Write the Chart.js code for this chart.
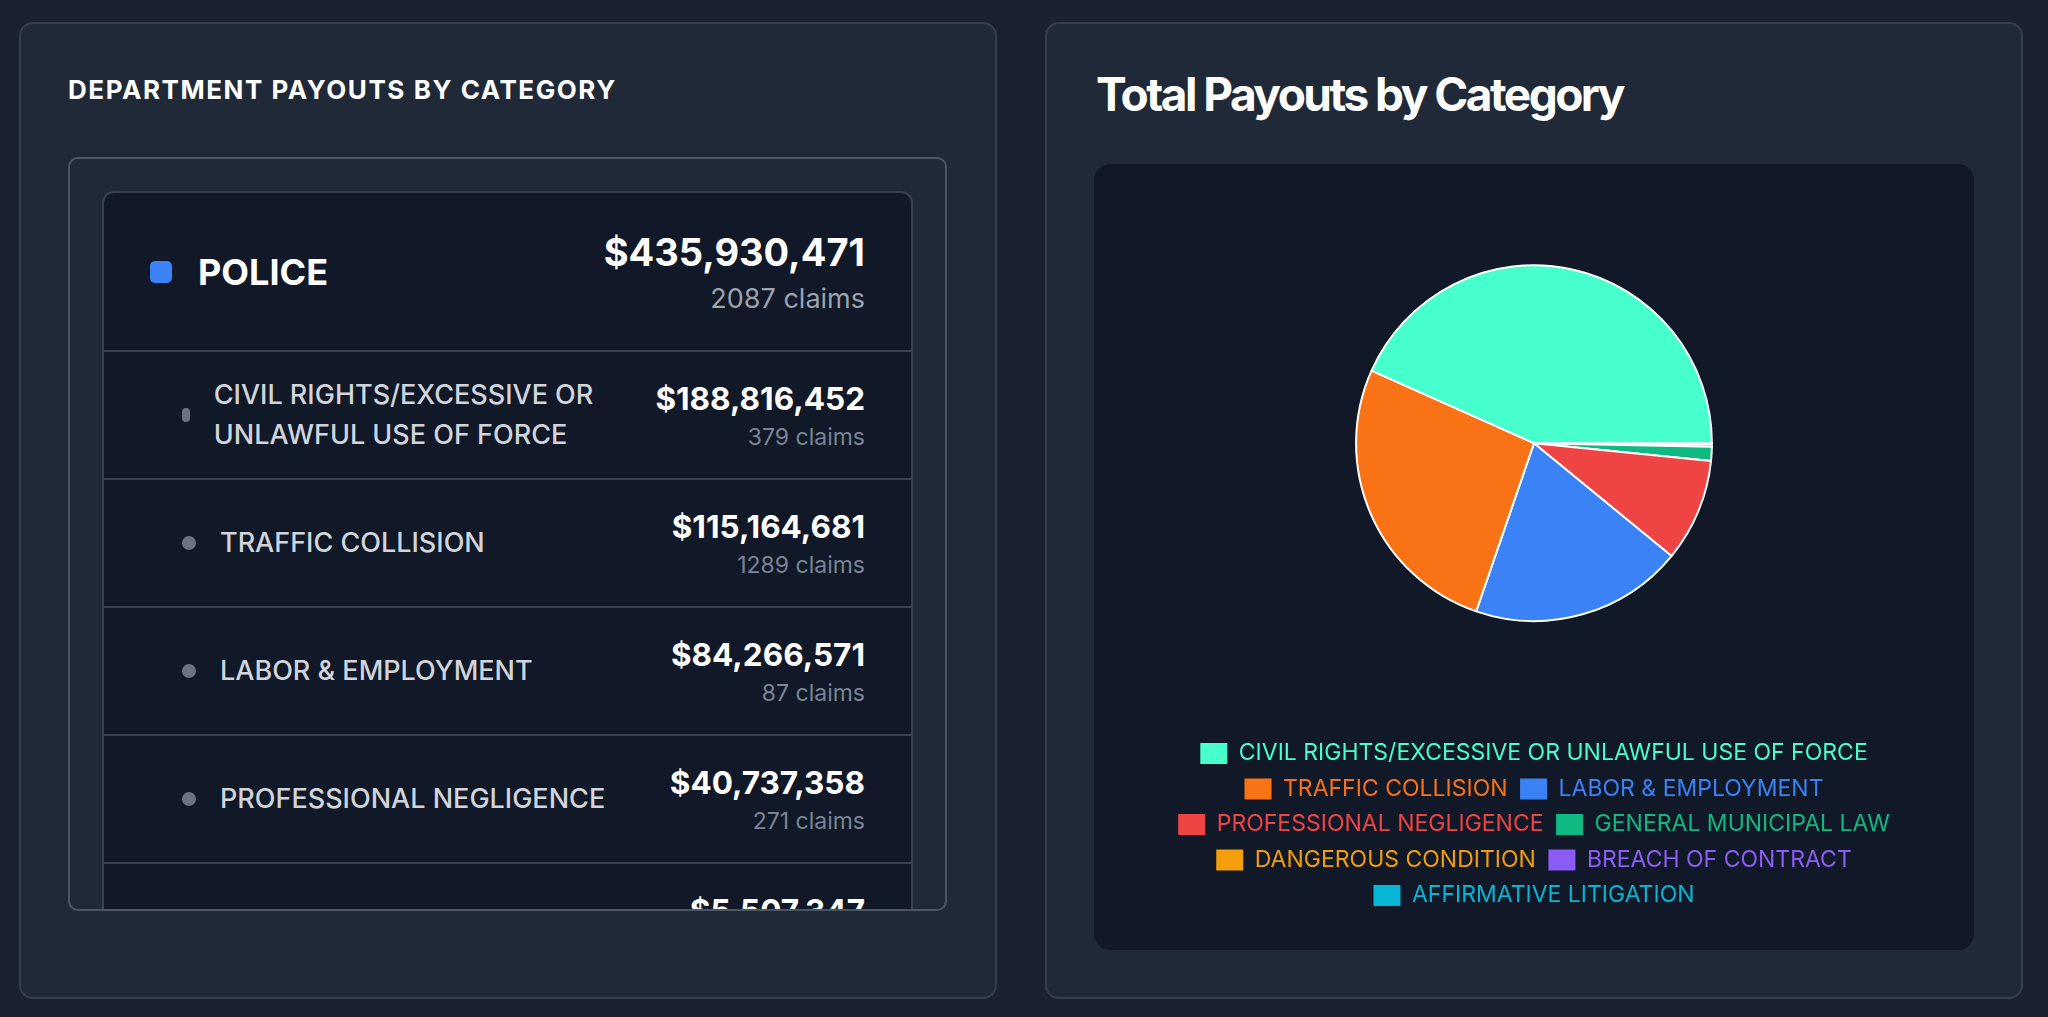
<!DOCTYPE html>
<html>
<head>
<meta charset="utf-8">
<title>Payouts by Category</title>
<script src="https://cdn.jsdelivr.net/npm/chart.js@4.4.1/dist/chart.umd.min.js"></script>
<style>
  * { box-sizing: border-box; }
  body {
    margin: 0;
    width: 2048px;
    height: 1017px;
    overflow: hidden;
    background: #1a2130;
    font-family: Inter, "Noto Sans", sans-serif;
  }
  .panel {
    position: absolute;
    top: 22px;
    width: 978px;
    height: 977px;
    background: #1f2937;
    border: 2px solid #343e4f;
    border-radius: 14px;
  }
  #left { left: 19px; padding: 50px 0 0 47px; }
  #right { left: 1045px; padding: 42px 0 0 47px; }

  .dept-title {
    margin: 0;
    font-size: 26px;
    line-height: 32px;
    font-weight: 700;
    letter-spacing: 0.06em;
    color: #fff;
  }
  .list-box {
    margin-top: 51px;
    width: 879px;
    height: 754px;
    border: 2px solid #4b5563;
    border-radius: 10px;
    padding: 32px;
    overflow: hidden;
  }
  .card {
    background: #111827;
    border: 2px solid #374151;
    border-radius: 12px;
  }
  .row {
    display: flex;
    align-items: center;
    justify-content: space-between;
    border-bottom: 2px solid #374151;
  }
  .row.dept { height: 159px; padding: 0 46px; }
  .row.cat { height: 128px; padding: 0 46px 0 78px; }
  .name { display: flex; align-items: center; min-width: 0; }
  .dept .dot { width: 22px; height: 22px; border-radius: 5px; background: #3b82f6; margin-right: 26px; }
  .dept .label { font-size: 36px; line-height: 40px; font-weight: 700; color: #fff; }
  .cat .dot { width: 14px; height: 14px; border-radius: 9999px; background: #6b7280; margin-right: 24px; }
  .cat .label { font-size: 27px; line-height: 40px; font-weight: 500; color: #d1d5db; }
  .amt { text-align: right; flex-shrink: 0; margin-left: 32px; }
  .money { font-weight: 700; color: #fff; }
  .dept .money { font-size: 38px; line-height: 55px; }
  .dept .claims { font-size: 27px; line-height: 38px; color: #9ca3af; }
  .cat .money { font-size: 31.5px; line-height: 45px; }
  .cat .claims { font-size: 23px; line-height: 33px; color: #7b8494; }

  .chart-title {
    margin: 0 0 42px 2px;
    font-size: 46px;
    line-height: 56px;
    font-weight: 700;
    letter-spacing: -0.055em;
    color: #fff;
  }
  .chart-box {
    width: 880px;
    height: 786px;
    background: #111827;
    border-radius: 16px;
    padding: 24px 24px 33px 24px;
  }
  .chart-wrap { position: relative; width: 832px; height: 729px; }
</style>
</head>
<body>

<div class="panel" id="left">
  <h3 class="dept-title">DEPARTMENT PAYOUTS BY CATEGORY</h3>
  <div class="list-box">
    <div class="card" id="card"></div>
  </div>
</div>

<div class="panel" id="right">
  <h2 class="chart-title">Total Payouts by Category</h2>
  <div class="chart-box">
    <div class="chart-wrap"><canvas id="pie"></canvas></div>
  </div>
</div>

<script>
const department = "POLICE";

const categories = [
    "CIVIL RIGHTS/EXCESSIVE OR UNLAWFUL USE OF FORCE",
    "TRAFFIC COLLISION",
    "LABOR & EMPLOYMENT",
    "PROFESSIONAL NEGLIGENCE",
    "GENERAL MUNICIPAL LAW",
    "DANGEROUS CONDITION",
    "BREACH OF CONTRACT",
    "AFFIRMATIVE LITIGATION"
];

// payout totals ($) and claim counts, police only
const payouts = [188816452, 115164681, 84266571, 40737358, 5507347, 1085420, 287642, 65000];
const claims = [379, 1289, 87, 271, 38, 17, 4, 2];

const colors = ["#46ffcc", "#f97316", "#3b82f6", "#ef4444", "#10b981", "#f59e0b", "#8b5cf6", "#06b6d4"];

const fmt = (n) => "$" + n.toLocaleString("en-US");

// ---- department list ----
function buildList() {
    const card = document.getElementById("card");
    const total = payouts.reduce((a, b) => a + b, 0);
    const totalClaims = claims.reduce((a, b) => a + b, 0);

    let html = `
      <div class="row dept">
        <div class="name"><span class="dot"></span><span class="label">${department}</span></div>
        <div class="amt"><div class="money">${fmt(total)}</div><div class="claims">${totalClaims} claims</div></div>
      </div>`;

    categories.forEach((cat, i) => {
        html += `
      <div class="row cat">
        <div class="name"><span class="dot"></span><span class="label">${cat.replace("&", "&amp;")}</span></div>
        <div class="amt"><div class="money">${fmt(payouts[i])}</div><div class="claims">${claims[i]} claims</div></div>
      </div>`;
    });

    card.innerHTML = html;
}

// ---- pie ----
function renderChart() {
    const ctx = document.getElementById("pie").getContext("2d");

    // slices run counter-clockwise from 3 o'clock in the original,
    // so feed them reversed and start at 90deg
    const rev = (arr) => arr.slice().reverse();

    new Chart(ctx, {
        type: "pie",
        data: {
            labels: rev(categories),
            datasets: [{
                data: rev(payouts),
                backgroundColor: rev(colors),
                borderColor: "#ffffff",
                borderWidth: 2,
                hoverOffset: 0,
                rotation: 90,
                radius: "70%"
            }]
        },
        options: {
            responsive: true,
            maintainAspectRatio: false,
            animation: false,
            plugins: {
                legend: {
                    position: "bottom",
                    title: { display: true, text: "", padding: { top: 0, bottom: 18 }, font: { size: 11 } },
                    labels: {
                        boxWidth: 27,
                        boxHeight: 21,
                        padding: 12.5,
                        font: { family: "Inter", size: 23 },
                        generateLabels: (chart) => {
                            const ds = chart.data.datasets[0];
                            return chart.data.labels.map((text, i) => ({
                                text: text,
                                fillStyle: ds.backgroundColor[i],
                                strokeStyle: ds.backgroundColor[i],
                                fontColor: ds.backgroundColor[i],
                                lineWidth: 0,
                                hidden: !chart.getDataVisibility(i),
                                index: i
                            })).reverse();
                        }
                    }
                },
                tooltip: {
                    callbacks: {
                        label: (item) => fmt(item.raw)
                    }
                }
            }
        }
    });
}

buildList();
renderChart();
</script>
</body>
</html>
